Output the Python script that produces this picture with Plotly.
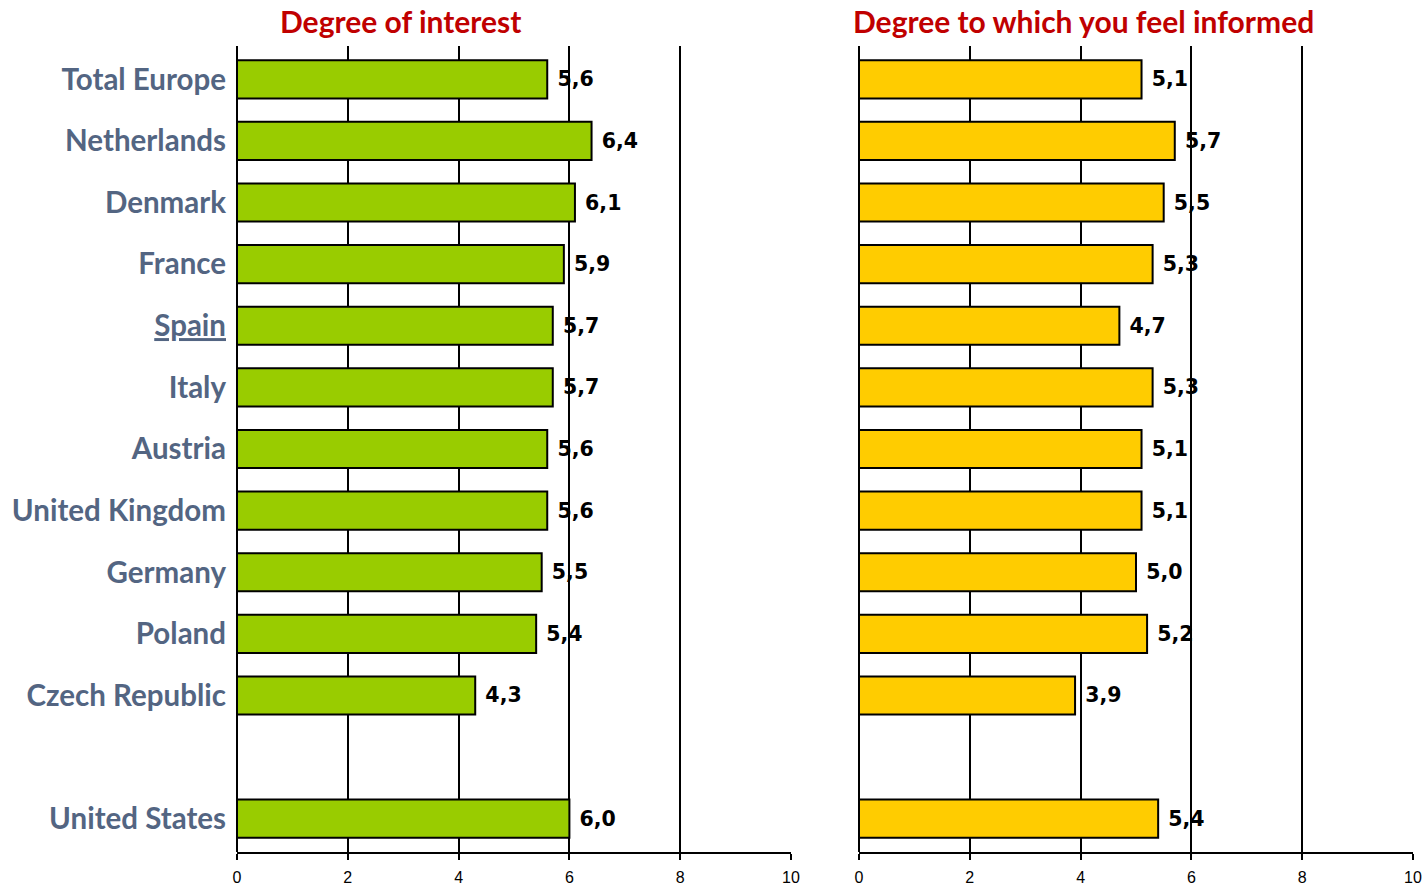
import plotly.graph_objects as go

categories = ["Total Europe", "Netherlands", "Denmark", "France", "Spain", "Italy",
              "Austria", "United Kingdom", "Germany", "Poland", "Czech Republic",
              " ", "United States"]
interest = [5.6, 6.4, 6.1, 5.9, 5.7, 5.7, 5.6, 5.6, 5.5, 5.4, 4.3, None, 6.0]
informed = [5.1, 5.7, 5.5, 5.3, 4.7, 5.3, 5.1, 5.1, 5.0, 5.2, 3.9, None, 5.4]
tick_vals = [0, 2, 4, 6, 8, 10]
titles = ["Degree of interest", "Degree to which you feel informed"]

def fmt(v):
    return "" if v is None else "\u00a0" + f"{v:.1f}".replace(".", ",")

ticktext = ["<u>Spain</u>" if c == "Spain" else c for c in categories]

W, H = 1422, 887
ML, MR, MT, MB = 237, 9, 46, 35
pw = W - ML - MR

def px2x(p):
    return (p - ML) / pw

valfont = dict(family="DejaVu Sans", size=20.5, color="black", weight="bold")

fig = go.Figure()
fig.add_trace(go.Bar(
    y=categories, x=interest, orientation="h", xaxis="x", yaxis="y",
    marker=dict(color="#99CC00", line=dict(color="black", width=2)),
    text=[fmt(v) for v in interest], textposition="outside", constraintext="none",
    textfont=valfont, cliponaxis=False, width=0.62, showlegend=False,
))
fig.add_trace(go.Bar(
    y=categories, x=informed, orientation="h", xaxis="x2", yaxis="y2",
    marker=dict(color="#FFCC00", line=dict(color="black", width=2)),
    text=[fmt(v) for v in informed], textposition="outside", constraintext="none",
    textfont=valfont, cliponaxis=False, width=0.62, showlegend=False,
))

xcommon = dict(range=[0, 10], tickvals=tick_vals, showgrid=True, gridcolor="black",
               gridwidth=2, zeroline=True, zerolinecolor="black", zerolinewidth=2,
               showline=True, linecolor="black", linewidth=2, ticks="outside",
               ticklen=6, tickwidth=2, tickcolor="black", ticklabelstandoff=4,
               tickfont=dict(family="Liberation Sans", size=16, color="black"),
               fixedrange=True, automargin=False)
ycommon = dict(categoryorder="array", categoryarray=categories,
               range=[len(categories) - 0.46, -0.54], showgrid=False,
               zeroline=False, showline=False, ticks="", automargin=False,
               fixedrange=True)

fig.update_layout(
    width=W, height=H, margin=dict(l=ML, r=MR, t=MT, b=MB),
    plot_bgcolor="white", paper_bgcolor="white",
    xaxis=dict(domain=[0, px2x(791)], anchor="y", **xcommon),
    xaxis2=dict(domain=[px2x(859), 1], anchor="y2", **xcommon),
    yaxis=dict(anchor="x", tickmode="array", tickvals=categories, ticktext=ticktext,
               tickfont=dict(family="Lato", size=29.5, color="#536582", weight="bold"),
               ticklabelstandoff=10, **ycommon),
    yaxis2=dict(anchor="x2", showticklabels=False, **ycommon),
)

ytitle = (H - MB - 21) / (H - MT - MB)
for txt, cx in zip(titles, [400, 1083]):
    fig.add_annotation(text=f"<b>{txt}</b>", x=px2x(cx), y=ytitle, xref="paper",
                       yref="paper", showarrow=False, xanchor="center", yanchor="middle",
                       font=dict(family="Lato", size=30, color="#C00000"))

fig.write_html("out.html", config={"displayModeBar": False},
               post_script="document.body.style.margin='0';")
